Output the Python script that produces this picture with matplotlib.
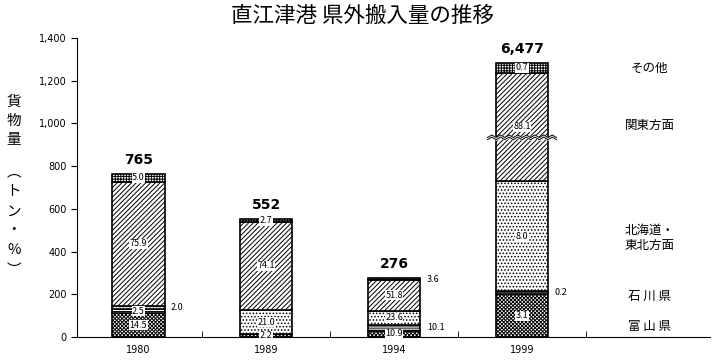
import numpy as np
import matplotlib.pyplot as plt

plt.rcParams['font.family'] = ['Noto Sans CJK JP', 'DejaVu Sans']
plt.rcParams['hatch.linewidth'] = 0.7

# data: totals (thousand t) and share by origin (%)
years = ['1980', '1989', '1994', '1999']
totals = [765, 552, 276, 6477]
toyama = [14.5, 2.2, 10.9, 3.1]
ishikawa = [2.5, 0.0, 10.1, 0.2]
hokkaido = [2.0, 21.0, 23.6, 8.0]
kanto = [75.9, 74.1, 51.8, 88.1]
other = [5.0, 2.7, 3.6, 0.7]
regions = ['富 山 県', '石 川 県', '北海道・\n東北方面', '関東方面', 'その他']

# axis break on the 1999 kanto segment
break_cut = 5200
break_y = 935

hatches = ['xxxxxxxxx', '--------', '.....', '///////', '++++++']
outside = [(0, 2), (2, 1), (2, 4), (3, 1)]
region_y = [51, 192, 463, 993, 1259]

fig = plt.figure(figsize=(7.2, 3.61), dpi=100)
ax = fig.add_axes([77 / 720, 24 / 361, 633 / 720, 299 / 361])

x = np.arange(len(years))
width = 0.41
pct = np.array([toyama, ishikawa, hokkaido, kanto, other])
tons = pct / 100 * np.array(totals)
shown = tons.copy()
shown[3, 3] -= break_cut
bottoms = np.vstack([np.zeros(len(years)), np.cumsum(shown, axis=0)[:-1]])

for i in range(len(pct)):
    for j in range(len(years)):
        h = shown[i, j]
        if h <= 0:
            continue
        ax.bar(x[j], h, width, bottom=bottoms[i, j], facecolor='white',
               edgecolor='black', hatch=hatches[i], linewidth=1.2)
        yc = bottoms[i, j] + h / 2
        if (j, i) in outside:
            ax.text(x[j] + width / 2 + 0.05, yc, f'{pct[i, j]:.1f}', ha='left',
                    va='center', fontsize=6.5)
        else:
            ax.text(x[j], yc, f'{pct[i, j]:.1f}', ha='center', va='center',
                    fontsize=6.5, bbox=dict(fc='white', ec='none', pad=0.3))

tops = shown.sum(axis=0)
for j, t in enumerate(totals):
    ax.annotate(f'{t:,}', (x[j], tops[j]), xytext=(0, 5), textcoords='offset points',
                ha='center', va='bottom', fontsize=10, fontweight='bold',
                family='DejaVu Sans')

# wavy break mark
bx = np.linspace(x[3] - 0.27, x[3] + 0.27, 17)
wave = np.where(np.arange(17) % 2 == 0, -6, 6)
ax.fill_between(bx, break_y + wave - 5, break_y + wave + 5, color='white', zorder=3)
ax.plot(bx, break_y + wave - 5, color='black', lw=0.7, zorder=4)
ax.plot(bx, break_y + wave + 5, color='black', lw=0.7, zorder=4)

for name, yv in zip(regions, region_y):
    ax.text(4.0, yv, name, ha='center', va='center', fontsize=9, linespacing=1.2)

ax.set_xlim(-0.48, 4.47)
ax.set_ylim(0, 1400)
ax.set_yticks(np.arange(0, 1401, 200))
ax.yaxis.set_major_formatter(plt.FuncFormatter(lambda v, p: f'{v:,.0f}'))
ax.set_xticks(x)
ax.set_xticklabels(years)
ax.set_xticks(x + 0.5, minor=True)
ax.tick_params(axis='x', which='major', length=0, labelsize=7, pad=6)
ax.tick_params(axis='x', which='minor', length=4, direction='in')
ax.tick_params(axis='y', length=4, labelsize=7)
for lab in ax.get_xticklabels() + ax.get_yticklabels():
    lab.set_family('DejaVu Sans')
ax.spines['top'].set_visible(False)
ax.spines['right'].set_visible(False)

fig.text(0.503, 0.955, '直江津港 県外搬入量の推移', ha='center', va='center', fontsize=15.5)

ylabel = ['貨', '物', '量', '︵', 'ト', 'ン', '・', '%', '︶']
ylabel_px = [102, 121, 140, 172, 191, 212, 230, 250, 270]
for ch, yp in zip(ylabel, ylabel_px):
    fig.text(14 / 720, 1 - yp / 361, ch, ha='center', va='center', fontsize=10.5)

fig.savefig('out.png', dpi=100)
